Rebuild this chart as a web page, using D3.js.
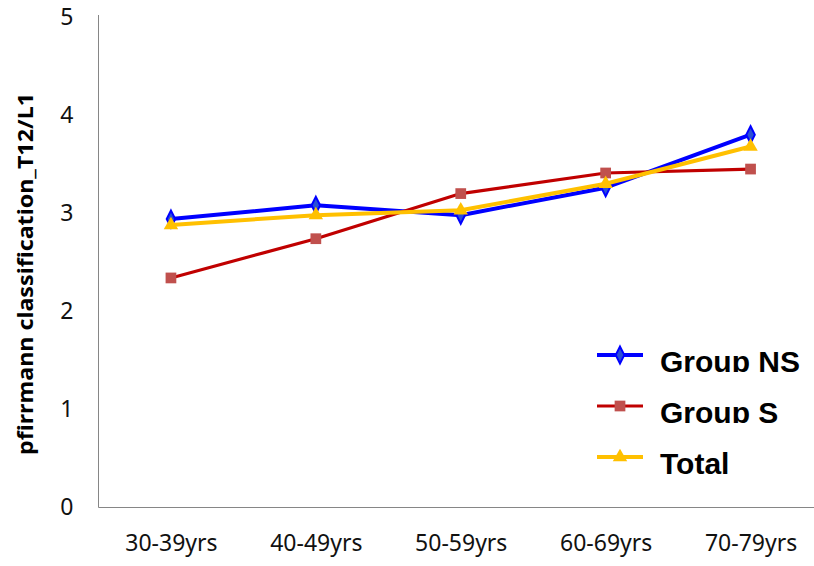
<!DOCTYPE html>
<html>
<head>
<meta charset="utf-8">
<script src="https://cdn.jsdelivr.net/npm/d3@7"></script>
<style>
  html, body { margin: 0; padding: 0; background: #fff; }
  svg { display: block; }
  .axis path { stroke: #868686; stroke-width: 1; }
  .axis text { font-family: "Noto Sans", sans-serif; font-size: 23px; fill: #111; }
</style>
</head>
<body>
<svg id="chart" width="814" height="566"></svg>
<script>
// Age groups on the x axis
const categories = ["30-39yrs", "40-49yrs", "50-59yrs", "60-69yrs", "70-79yrs"];
// Mean Pfirrmann grade at T12/L1 per age group
const groupNS = [2.94, 3.08, 2.98, 3.26, 3.80];
const groupS  = [2.34, 2.74, 3.20, 3.41, 3.45];
const total   = [2.88, 2.98, 3.03, 3.30, 3.68];
const yTicks  = [0, 1, 2, 3, 4, 5];
const seriesNames = ["Group NS", "Group S", "Total"];

const series = [
  { name: seriesNames[0], values: groupNS, line: "#0000FF", width: 4,   marker: "diamond",  fill: "#2a4fd6", mstroke: "#0000FF" },
  { name: seriesNames[1], values: groupS,  line: "#C00000", width: 3.2, marker: "square",   fill: "#C0504D", mstroke: "none" },
  { name: seriesNames[2], values: total,   line: "#FFC000", width: 4,   marker: "triangle", fill: "#FFC000", mstroke: "none" }
];

const svg = d3.select("#chart");
const plot = { left: 98.5, right: 823, top: 15, bottom: 507.5 };

const x = d3.scalePoint().domain(categories).range([plot.left, plot.right]).padding(0.5);
const y = d3.scaleLinear().domain([0, 5]).range([507.5, 17]);

// Axes: left value axis and bottom category axis, no tick marks
const yAxis = svg.append("g").attr("class", "axis")
  .attr("transform", `translate(${plot.left},0)`)
  .call(d3.axisLeft(y).tickValues(yTicks).tickSize(0).tickPadding(25).tickFormat(d3.format("d")));
yAxis.select(".domain").attr("d", `M0,${plot.top}V${plot.bottom}`);

const xAxis = svg.append("g").attr("class", "axis")
  .attr("transform", `translate(0,${plot.bottom})`)
  .call(d3.axisBottom(x).tickSize(0).tickPadding(27));
xAxis.select(".domain").attr("d", `M${plot.left},0H814`);

// Y axis title
svg.append("text")
  .attr("transform", `translate(33,274) rotate(-90)`)
  .attr("text-anchor", "middle")
  .attr("font-family", "'Noto Sans', sans-serif")
  .attr("font-weight", "bold")
  .attr("font-size", 22)
  .attr("textLength", 362)
  .attr("lengthAdjust", "spacingAndGlyphs")
  .text("pfirrmann classification_T12/L1");

// Marker shapes
const symbolFor = {
  diamond: d3.symbol().type(d3.symbolDiamond).size(70),
  square: d3.symbol().type(d3.symbolSquare).size(115),
  triangle: d3.symbol().type(d3.symbolTriangle).size(90)
};
const markerTransform = s => s.marker === "diamond" ? " scale(0.95,1.1)" : "";

const line = d3.line()
  .x((d, i) => x(categories[i]))
  .y(d => y(d));

// Series lines with markers, drawn in series order
series.forEach(s => {
  const g = svg.append("g");
  g.append("path")
    .attr("d", line(s.values))
    .attr("fill", "none")
    .attr("stroke", s.line)
    .attr("stroke-width", s.width)
    .attr("stroke-linejoin", "round");
  g.selectAll("path.m").data(s.values).join("path")
    .attr("class", "m")
    .attr("d", symbolFor[s.marker])
    .attr("transform", (d, i) => `translate(${x(categories[i])},${y(d)})` + markerTransform(s))
    .attr("fill", s.fill)
    .attr("stroke", s.mstroke)
    .attr("stroke-width", s.mstroke === "none" ? 0 : 2);
});

// Legend
const legend = svg.append("g");
const legendRowY = [355, 406, 457];
const defs = svg.append("defs");
series.forEach((s, i) => {
  const ly = legendRowY[i];
  legend.append("line")
    .attr("x1", 597).attr("x2", 643)
    .attr("y1", ly).attr("y2", ly)
    .attr("stroke", s.line).attr("stroke-width", s.width);
  legend.append("path")
    .attr("d", symbolFor[s.marker])
    .attr("transform", `translate(620,${ly})` + markerTransform(s))
    .attr("fill", s.fill)
    .attr("stroke", s.mstroke)
    .attr("stroke-width", s.mstroke === "none" ? 0 : 2);
  defs.append("clipPath").attr("id", "lg" + i)
    .append("rect").attr("x", 650).attr("y", ly - 30).attr("width", 170).attr("height", 47);
  legend.append("text")
    .attr("clip-path", `url(#lg${i})`)
    .attr("x", 660).attr("y", ly + 17)
    .attr("font-family", "'Liberation Sans', Arial, sans-serif")
    .attr("font-weight", "bold")
    .attr("font-size", 30)
    .text(s.name);
});
</script>
</body>
</html>
